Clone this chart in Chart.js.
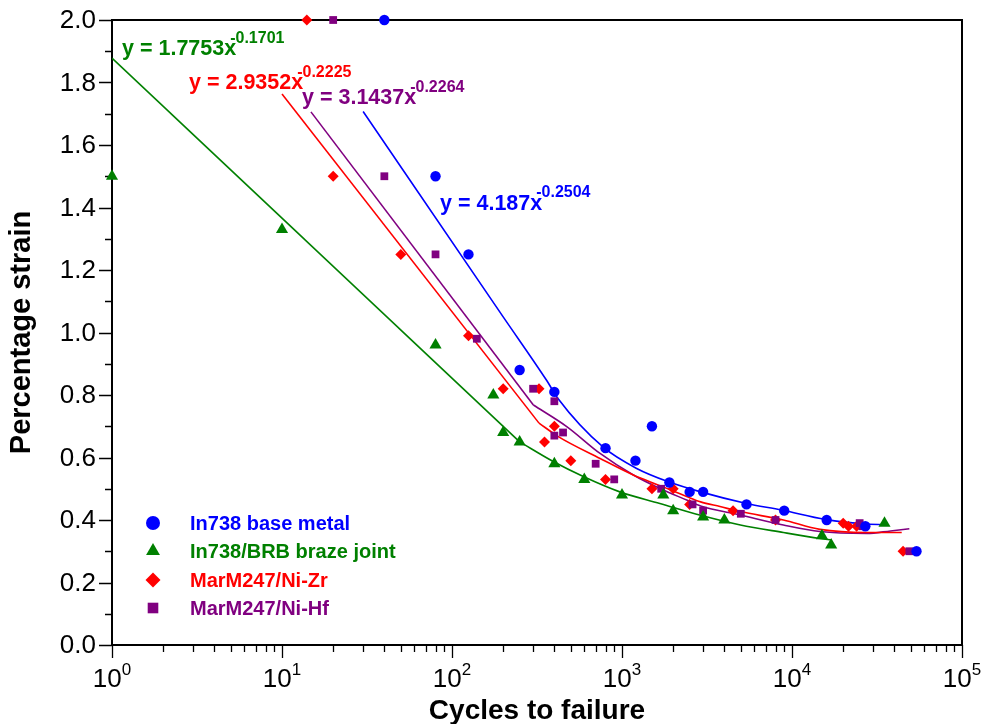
<!DOCTYPE html>
<html>
<head>
<meta charset="utf-8">
<title>Percentage strain vs cycles to failure</title>
<script src="https://cdn.jsdelivr.net/npm/chart.js@4.4.1/dist/chart.umd.min.js"></script>
<style>
  html, body { margin: 0; padding: 0; background: #ffffff; }
  #wrap { width: 981px; height: 724px; position: relative; }
</style>
</head>
<body>
<div id="wrap"><canvas id="fatigue"></canvas></div>
<script>
// Test results: cycles to failure (x) and percentage strain (y)
const in738X = [40, 80, 125, 250, 400, 800, 1200, 1500, 1900, 2500, 3000, 5400, 9000, 16000, 27000, 54000];
const in738Y = [2.0, 1.5, 1.25, 0.88, 0.81, 0.63, 0.59, 0.70, 0.52, 0.49, 0.49, 0.45, 0.43, 0.40, 0.38, 0.30];

const brbX = [1, 10, 80, 175, 200, 250, 400, 600, 1000, 1750, 2000, 3000, 4000, 15000, 17000, 35000];
const brbY = [1.5, 1.33, 0.96, 0.80, 0.68, 0.65, 0.58, 0.53, 0.48, 0.48, 0.43, 0.41, 0.40, 0.35, 0.32, 0.39];

const zrX = [14, 20, 50, 125, 200, 325, 350, 400, 500, 800, 1500, 2000, 2500, 4500, 8000, 20000, 21500, 24000, 45000];
const zrY = [2.0, 1.5, 1.25, 0.99, 0.82, 0.82, 0.65, 0.70, 0.59, 0.53, 0.50, 0.50, 0.45, 0.43, 0.40, 0.39, 0.38, 0.38, 0.30];

const hfX = [20, 40, 80, 140, 300, 400, 400, 450, 700, 900, 1700, 2600, 3000, 5000, 8000, 25000, 26000, 49000];
const hfY = [2.0, 1.5, 1.25, 0.98, 0.82, 0.78, 0.67, 0.68, 0.58, 0.53, 0.50, 0.45, 0.43, 0.42, 0.40, 0.39, 0.38, 0.30];

// Trend lines: straight part up to index `kink`, smooth tail after it
// (kink 0 means the whole line is drawn smooth)
const in738FitX = [30, 200, 360, 420, 776, 1220, 1860, 2900, 5400, 8700, 15700, 27600, 35000];
const in738FitY = [1.707, 1.05, 0.847, 0.789, 0.633, 0.565, 0.523, 0.49, 0.453, 0.432, 0.402, 0.387, 0.385];
const in738Kink = 0;

const brbFitX = [1, 250, 394, 592, 970, 1670, 2900, 4970, 8900, 14600, 17100];
const brbFitY = [1.878, 0.65, 0.587, 0.539, 0.49, 0.453, 0.415, 0.384, 0.36, 0.341, 0.336];
const brbKink = 1;

const zrFitX = [10, 325, 422, 743, 1166, 1670, 2400, 2900, 3770, 4970, 8900, 14600, 27600, 44200];
const zrFitY = [1.763, 0.71, 0.667, 0.597, 0.544, 0.51, 0.475, 0.458, 0.443, 0.427, 0.40, 0.37, 0.36, 0.36];
const zrKink = 1;

const hfFitX = [14.8, 301, 473, 743, 1166, 1670, 2400, 2900, 4970, 8900, 14600, 27600, 38000, 49000];
const hfFitY = [1.706, 0.768, 0.699, 0.613, 0.544, 0.501, 0.464, 0.445, 0.416, 0.384, 0.363, 0.357, 0.365, 0.372];
const hfKink = 1;

const seriesNames = ['In738 base metal', 'In738/BRB braze joint', 'MarM247/Ni-Zr', 'MarM247/Ni-Hf'];
const seriesColors = ['#0000ff', '#008000', '#ff0000', '#800080'];
const seriesShapes = ['circle', 'triangle', 'rectRot', 'rect'];
const equations = [
  ['y = 4.187x', '-0.2504'],
  ['y = 1.7753x', '-0.1701'],
  ['y = 2.9352x', '-0.2225'],
  ['y = 3.1437x', '-0.2264']
];

const xTickValues = [1, 10, 100, 1000, 10000, 100000];
const xTickPowers = ['0', '1', '2', '3', '4', '5'];
const yTickValues = [0, 0.2, 0.4, 0.6, 0.8, 1.0, 1.2, 1.4, 1.6, 1.8, 2.0];
const yTickLabels = ['0.0', '0.2', '0.4', '0.6', '0.8', '1.0', '1.2', '1.4', '1.6', '1.8', '2.0'];

const FONT = 'Arial, "Liberation Sans", Helvetica, sans-serif';

const toPoints = (xs, ys) => xs.map((x, i) => ({ x: x, y: ys[i] }));

function scatterSet(i, xs, ys, r, order) {
  return {
    type: 'scatter',
    label: seriesNames[i],
    data: toPoints(xs, ys),
    pointStyle: seriesShapes[i],
    pointRadius: r,
    pointHoverRadius: r,
    pointBackgroundColor: seriesColors[i],
    pointBorderWidth: 0,
    clip: false,
    order: order
  };
}

function fitSets(i, xs, ys, kink) {
  const color = seriesColors[i];
  const sets = [];
  if (kink > 0) {
    sets.push({
      type: 'line',
      data: toPoints(xs.slice(0, kink + 1), ys.slice(0, kink + 1)),
      borderColor: color,
      borderWidth: 1.6,
      pointRadius: 0,
      tension: 0,
      order: 10
    });
  }
  sets.push({
    type: 'line',
    data: toPoints(xs.slice(kink), ys.slice(kink)),
    borderColor: color,
    borderWidth: 1.6,
    pointRadius: 0,
    cubicInterpolationMode: 'monotone',
    order: 10
  });
  return sets;
}

// Frame, ticks and tick labels under the markers
const axisDecor = {
  id: 'axisDecor',
  beforeDatasetsDraw(chart) {
    const ctx = chart.ctx;
    const a = chart.chartArea;
    const xs = chart.scales.x;
    const ys = chart.scales.y;
    ctx.save();
    ctx.strokeStyle = '#000';
    ctx.lineWidth = 2;
    ctx.strokeRect(a.left, a.top, a.right - a.left, a.bottom - a.top);

    ctx.lineWidth = 1.3;
    ctx.beginPath();
    // y ticks, major every 0.2 and minor between
    for (let k = 0; k <= 20; k++) {
      const py = Math.round(ys.getPixelForValue(k / 10)) + 0.5;
      const len = k % 2 === 0 ? 13 : 7;
      ctx.moveTo(a.left - len, py);
      ctx.lineTo(a.left, py);
    }
    // x ticks on the log axis
    for (let d = 0; d <= 5; d++) {
      for (let m = 1; m <= 9; m++) {
        const v = m * Math.pow(10, d);
        if (v > 100000) break;
        const px = Math.round(xs.getPixelForValue(v)) + 0.5;
        const len = m === 1 ? 13 : 7;
        ctx.moveTo(px, a.bottom);
        ctx.lineTo(px, a.bottom + len);
      }
    }
    ctx.stroke();

    ctx.fillStyle = '#000';
    ctx.font = '26px ' + FONT;
    ctx.textAlign = 'right';
    ctx.textBaseline = 'middle';
    yTickValues.forEach((v, i) => {
      ctx.fillText(yTickLabels[i], a.left - 16, ys.getPixelForValue(v) + 1);
    });

    ctx.textBaseline = 'alphabetic';
    ctx.textAlign = 'left';
    xTickValues.forEach((v, i) => {
      ctx.font = '26px ' + FONT;
      const wBase = ctx.measureText('10').width;
      ctx.font = '17px ' + FONT;
      const wSup = ctx.measureText(xTickPowers[i]).width;
      const x0 = xs.getPixelForValue(v) - (wBase + wSup) / 2;
      ctx.font = '26px ' + FONT;
      ctx.fillText('10', x0, a.bottom + 42);
      ctx.font = '17px ' + FONT;
      ctx.fillText(xTickPowers[i], x0 + wBase, a.bottom + 30);
    });

    ctx.font = 'bold 28px ' + FONT;
    ctx.textAlign = 'center';
    ctx.fillText('Cycles to failure', (a.left + a.right) / 2, a.bottom + 74);
    ctx.translate(30, (a.top + a.bottom) / 2);
    ctx.rotate(-Math.PI / 2);
    ctx.font = 'bold 29px ' + FONT;
    ctx.fillText('Percentage strain', 0, 0);
    ctx.restore();
  },
  afterDraw(chart) {
    const ctx = chart.ctx;
    const a = chart.chartArea;
    ctx.save();

    // equations of the trend lines
    const eqPos = [[440, 210, 197], [122, 55, 43], [189, 89, 77], [302, 104, 92]];
    equations.forEach((eq, i) => {
      const [ex, eb, sb] = eqPos[i];
      ctx.fillStyle = seriesColors[i];
      ctx.textAlign = 'left';
      ctx.textBaseline = 'alphabetic';
      ctx.font = 'bold 21.5px ' + FONT;
      ctx.fillText(eq[0], ex, eb);
      const w = ctx.measureText(eq[0]).width;
      ctx.font = 'bold 16px ' + FONT;
      ctx.fillText(eq[1], ex + w - 6, sb);
    });

    // legend inside the plot
    const rowY = [523, 551, 580, 608];
    const legendR = [7, 8, 7.5, 7.5];
    seriesNames.forEach((name, i) => {
      ctx.fillStyle = seriesColors[i];
      if (Chart.helpers && Chart.helpers.drawPoint) {
        Chart.helpers.drawPoint(ctx, {
          pointStyle: seriesShapes[i], radius: legendR[i], rotation: 0, borderWidth: 0
        }, a.left + 41, rowY[i]);
      }
      ctx.font = 'bold 20px ' + FONT;
      ctx.textAlign = 'left';
      ctx.textBaseline = 'middle';
      ctx.fillText(name, a.left + 78, rowY[i] + 1);
    });
    ctx.restore();
  }
};

const datasets = [
  scatterSet(0, in738X, in738Y, 5.2, 1),
  scatterSet(1, brbX, brbY, 7, 2),
  scatterSet(3, hfX, hfY, 5.5, 3),
  scatterSet(2, zrX, zrY, 5.5, 4),
  ...fitSets(0, in738FitX, in738FitY, in738Kink),
  ...fitSets(1, brbFitX, brbFitY, brbKink),
  ...fitSets(2, zrFitX, zrFitY, zrKink),
  ...fitSets(3, hfFitX, hfFitY, hfKink)
];

const fatigueChart = new Chart(document.getElementById('fatigue'), {
  type: 'scatter',
  data: { datasets: datasets },
  options: {
    responsive: true,
    maintainAspectRatio: false,
    animation: false,
    layout: { padding: { top: 20, right: 19, left: 0, bottom: 0 } },
    scales: {
      x: {
        type: 'logarithmic',
        min: 1,
        max: 100000,
        grid: { display: false },
        border: { display: false },
        ticks: { display: false },
        afterFit: (scale) => { scale.height = 79; }
      },
      y: {
        type: 'linear',
        min: 0,
        max: 2,
        grid: { display: false },
        border: { display: false },
        ticks: { display: false },
        afterFit: (scale) => { scale.width = 112; }
      }
    },
    plugins: {
      legend: { display: false },
      tooltip: { enabled: false }
    }
  },
  plugins: [axisDecor]
});
</script>
</body>
</html>
